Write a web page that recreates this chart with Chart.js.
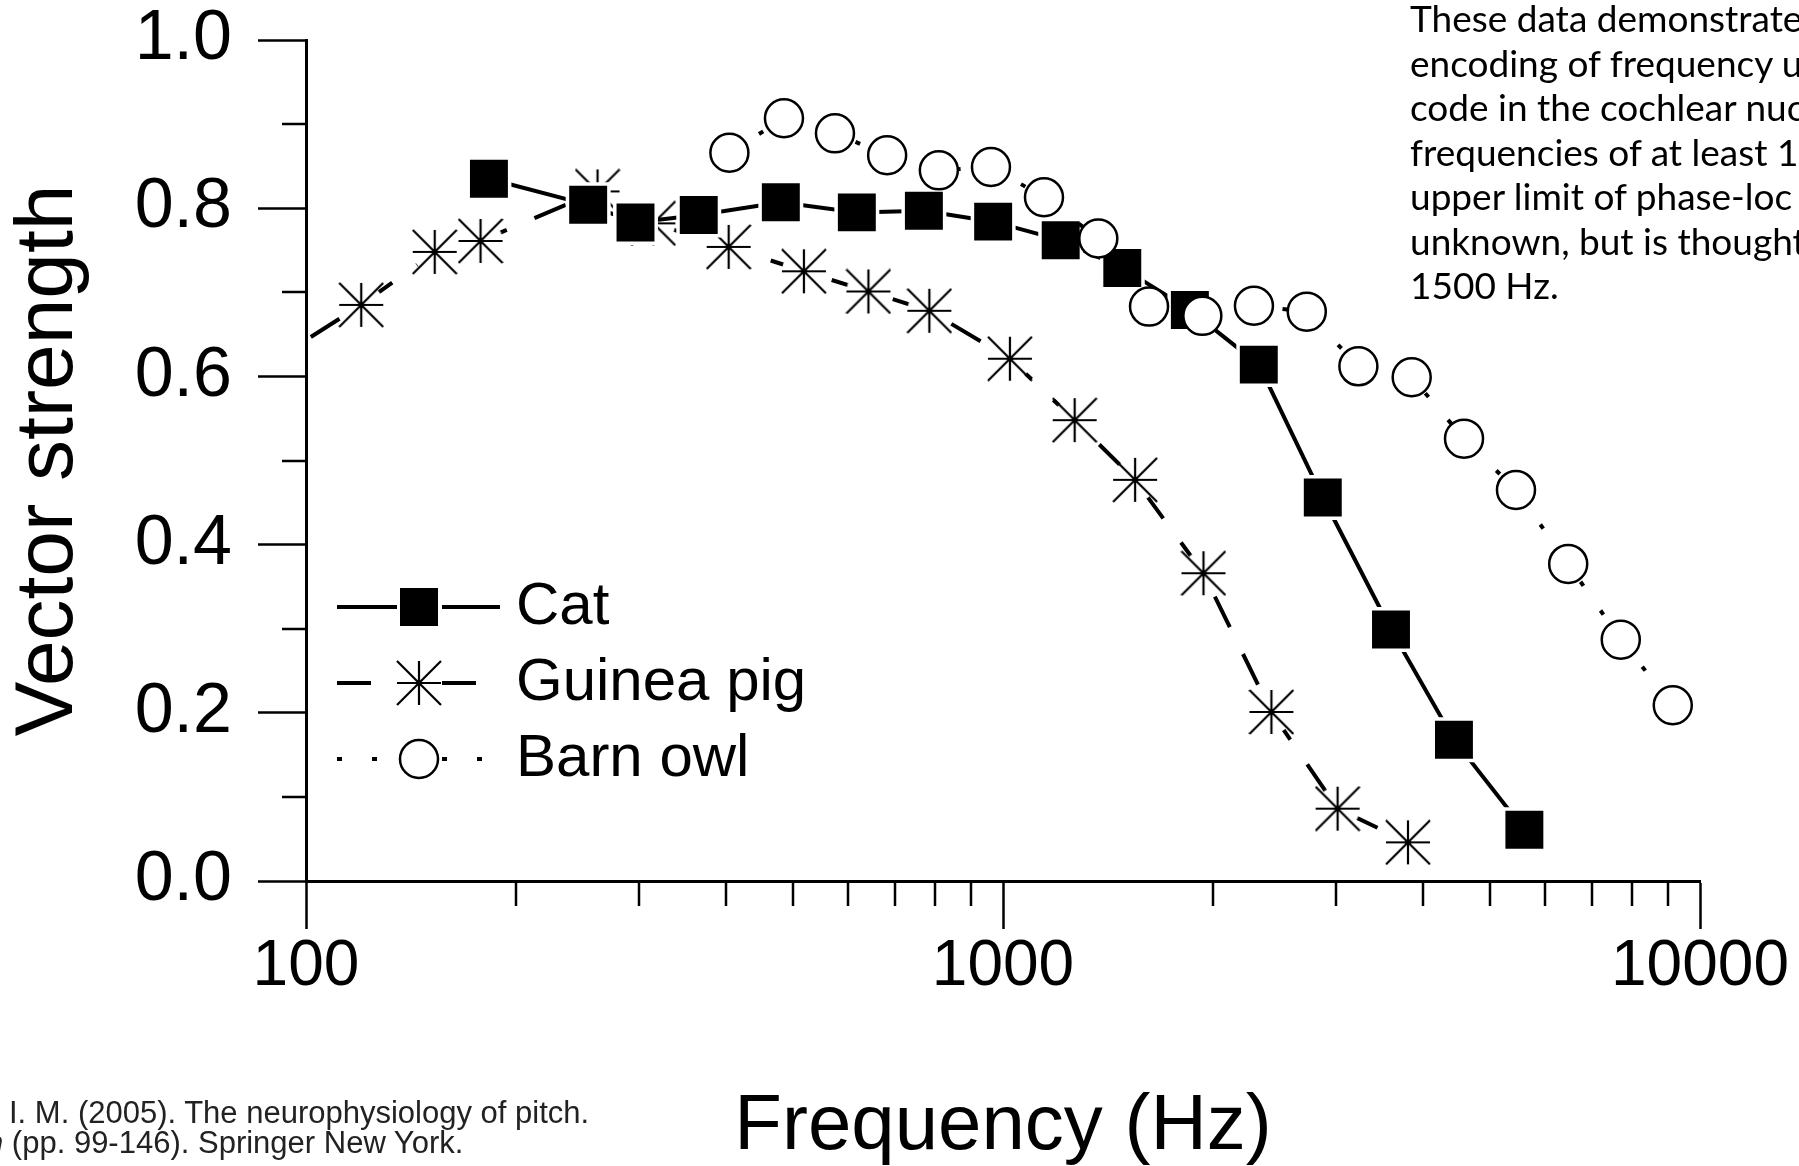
<!DOCTYPE html>
<html>
<head>
<meta charset="utf-8">
<title>Vector strength vs frequency</title>
<script src="https://cdn.jsdelivr.net/npm/chart.js@4.4.1/dist/chart.umd.min.js"></script>
<style>
  html, body { margin: 0; padding: 0; background: #fff; }
  body { width: 1799px; height: 1166px; overflow: hidden; position: relative; }
  #chart { position: absolute; left: 0; top: 0; }
  .note {
    position: absolute; left: 1410px; top: -4px;
    font-family: Lato, "Open Sans", sans-serif; font-size: 37px; line-height: 44.5px;
    color: #000; white-space: nowrap;
  }
  .cite {
    position: absolute;
    font-family: "Liberation Sans", Arial, sans-serif; font-size: 31px; line-height: 30px;
    color: #222; white-space: nowrap;
  }
</style>
</head>
<body>
<canvas id="chart" width="1799" height="1166"></canvas>

<div class="note">These data demonstrate<br>encoding of frequency u<br>code in the cochlear nuc<br>frequencies of at least 1<br>upper limit of phase-loc<br>unknown, but is thought<br>1500 Hz.</div>

<div class="cite" style="left:9px; top:1098px;">I. M. (2005). The neurophysiology of pitch.</div>
<div class="cite" style="left:-14px; top:1128px;"><i>n</i> (pp. 99-146). Springer New York.</div>

<script>
// values: frequency (Hz) and vector strength
const catFreq = [183, 254, 297, 366, 480, 617, 770, 968, 1210, 1483, 1854, 2328, 2876, 3603, 4436, 5598];
const catVS   = [0.835, 0.804, 0.783, 0.792, 0.807, 0.795, 0.797, 0.784, 0.762, 0.729, 0.679, 0.614, 0.456, 0.299, 0.168, 0.061];

// first guinea pig point sits left of the 100 Hz axis (only its line shows)
const gpFreq = [85, 120, 153, 178, 262, 315, 404, 518, 641, 784, 1023, 1267, 1547, 1939, 2427, 3020, 3811];
const gpVS   = [0.606, 0.685, 0.748, 0.761, 0.82, 0.782, 0.754, 0.725, 0.701, 0.678, 0.621, 0.548, 0.477, 0.366, 0.201, 0.086, 0.046];

const owlFreq = [405, 485, 574, 682, 809, 961, 1145, 1370, 1620, 1932, 2291, 2728, 3235, 3858, 4586, 5445, 6470, 7697, 9140];
const owlVS   = [0.866, 0.907, 0.889, 0.863, 0.845, 0.849, 0.813, 0.764, 0.683, 0.672, 0.684, 0.677, 0.612, 0.599, 0.526, 0.465, 0.377, 0.287, 0.209];

// axis ticks
const xTickValues = [100, 1000, 10000];
const xMinorTicks = [200, 300, 400, 500, 600, 700, 800, 900, 2000, 3000, 4000, 5000, 6000, 7000, 8000, 9000];
const yTickValues = [0, 0.2, 0.4, 0.6, 0.8, 1.0];
const yMinorTicks = [0.1, 0.3, 0.5, 0.7, 0.9];

const toPoints = (xs, ys) => xs.map((x, i) => ({ x: x, y: ys[i] }));

Chart.defaults.font.family = '"Liberation Sans", Arial, sans-serif';
Chart.defaults.color = '#000';

// asterisk marker (+ and x through a square box), white patch behind it
// so the dashed line stops short of the marker
function makeAsterisk(size, lw, withPatch) {
    const c = document.createElement('canvas');
    c.width = size; c.height = size;
    const g = c.getContext('2d');
    const m = size / 2, r = size / 2 - 1;
    if (withPatch) {
        g.fillStyle = '#fff';
        g.beginPath();
        g.arc(m, m, r, 0, Math.PI * 2);
        g.fill();
    }
    g.strokeStyle = '#000';
    g.lineWidth = lw;
    g.beginPath();
    g.moveTo(m, m - r); g.lineTo(m, m + r);
    g.moveTo(m - r, m); g.lineTo(m + r, m);
    g.moveTo(m - r, m - r); g.lineTo(m + r, m + r);
    g.moveTo(m + r, m - r); g.lineTo(m - r, m + r);
    g.stroke();
    return c;
}
const asterisk = makeAsterisk(46, 2.2, true);

// short minor ticks on both axes
const minorTicks = {
    id: 'minorTicks',
    afterDraw(chart) {
        const { ctx, chartArea, scales } = chart;
        ctx.save();
        ctx.strokeStyle = '#000';
        ctx.lineWidth = 2.5;
        ctx.beginPath();
        xMinorTicks.forEach(v => {
            const px = Math.round(scales.x.getPixelForValue(v));
            ctx.moveTo(px, chartArea.bottom);
            ctx.lineTo(px, chartArea.bottom + 25);
        });
        yMinorTicks.forEach(v => {
            const py = Math.round(scales.y.getPixelForValue(v));
            ctx.moveTo(chartArea.left - 24, py);
            ctx.lineTo(chartArea.left, py);
        });
        ctx.stroke();
        ctx.restore();
    }
};

// key inside the plot, lower left
const seriesKey = {
    id: 'seriesKey',
    afterDraw(chart) {
        const ctx = chart.ctx;
        const area = chart.chartArea;
        const x0 = area.left + 31, xm = area.left + 113, x1 = area.left + 194, tx = area.left + 210;
        chart.data.datasets.forEach((ds, i) => {
            const y = area.bottom - 274 + i * 76;
            ctx.save();
            ctx.strokeStyle = '#000';
            ctx.lineWidth = ds.borderWidth;
            ctx.setLineDash(ds.borderDash || []);
            ctx.beginPath(); ctx.moveTo(x0, y); ctx.lineTo(xm - 22, y); ctx.stroke();
            ctx.beginPath(); ctx.moveTo(xm + 23, y); ctx.lineTo(x1, y); ctx.stroke();
            ctx.setLineDash([]);
            if (ds.pointStyle === 'rect') {
                ctx.fillStyle = '#000';
                ctx.fillRect(xm - 19, y - 19, 38, 38);
            } else if (ds.pointStyle === 'circle') {
                ctx.beginPath();
                ctx.arc(xm, y, ds.pointRadius, 0, Math.PI * 2);
                ctx.fillStyle = '#fff';
                ctx.fill();
                ctx.lineWidth = ds.pointBorderWidth;
                ctx.stroke();
            } else {
                ctx.drawImage(ds.pointStyle, xm - ds.pointStyle.width / 2, y - ds.pointStyle.height / 2);
            }
            ctx.fillStyle = '#000';
            ctx.font = '60px "Liberation Sans", Arial, sans-serif';
            ctx.textBaseline = 'middle';
            ctx.fillText(ds.label, tx, y);
            ctx.restore();
        });
    }
};

new Chart(document.getElementById('chart'), {
    type: 'line',
    data: {
        datasets: [
            {
                label: 'Cat',
                data: toPoints(catFreq, catVS),
                borderColor: '#000',
                borderWidth: 4,
                pointStyle: 'rect',
                // thin white rim keeps the line just off the square
                pointRadius: 29.3,
                pointBackgroundColor: '#000',
                pointBorderColor: '#fff',
                pointBorderWidth: 3.5,
                fill: false,
                order: 1
            },
            {
                label: 'Guinea pig',
                data: toPoints(gpFreq, gpVS),
                borderColor: '#000',
                borderWidth: 4,
                borderDash: [34, 30],
                pointStyle: asterisk,
                pointRadius: 22,
                fill: false,
                order: 2
            },
            {
                label: 'Barn owl',
                data: toPoints(owlFreq, owlVS),
                borderColor: '#000',
                borderWidth: 4,
                borderDash: [5, 30],
                pointStyle: 'circle',
                pointRadius: 19,
                pointBorderWidth: 2.5,
                pointBorderColor: '#000',
                pointBackgroundColor: '#fff',
                fill: false,
                order: 0
            }
        ]
    },
    options: {
        responsive: false,
        animation: false,
        devicePixelRatio: 1,
        events: [],
        layout: { padding: { left: 0, top: 40, right: 99, bottom: 0 } },
        plugins: {
            legend: { display: false },
            tooltip: { enabled: false }
        },
        scales: {
            x: {
                type: 'logarithmic',
                min: 100,
                max: 10000,
                afterBuildTicks: s => { s.ticks = xTickValues.map(v => ({ value: v })); },
                afterFit: s => { s.height = 285; s.paddingLeft = 0; s.paddingRight = 0; },
                border: { display: true, color: '#000', width: 3 },
                grid: { drawOnChartArea: false, drawTicks: true, tickLength: 48, tickWidth: 2.5, tickColor: '#000' },
                ticks: {
                    color: '#000',
                    font: { size: 64 },
                    padding: 0,
                    maxRotation: 0,
                    autoSkip: false,
                    callback: v => String(v)
                },
                title: {
                    display: true,
                    text: 'Frequency (Hz)',
                    color: '#000',
                    font: { size: 78 },
                    padding: { top: 0, bottom: -8 }
                }
            },
            y: {
                min: 0,
                max: 1,
                afterBuildTicks: s => { s.ticks = yTickValues.map(v => ({ value: v })); },
                afterFit: s => { s.width = 306; s.paddingTop = 0; s.paddingBottom = 0; },
                border: { display: true, color: '#000', width: 3 },
                grid: { drawOnChartArea: false, drawTicks: true, tickLength: 48, tickWidth: 2.5, tickColor: '#000' },
                ticks: {
                    color: '#000',
                    font: { size: 70 },
                    padding: 26,
                    callback: v => v.toFixed(1)
                },
                title: {
                    display: true,
                    text: 'Vector strength',
                    color: '#000',
                    font: { size: 82 },
                    padding: 0
                }
            }
        }
    },
    plugins: [minorTicks, seriesKey]
});
</script>
</body>
</html>
